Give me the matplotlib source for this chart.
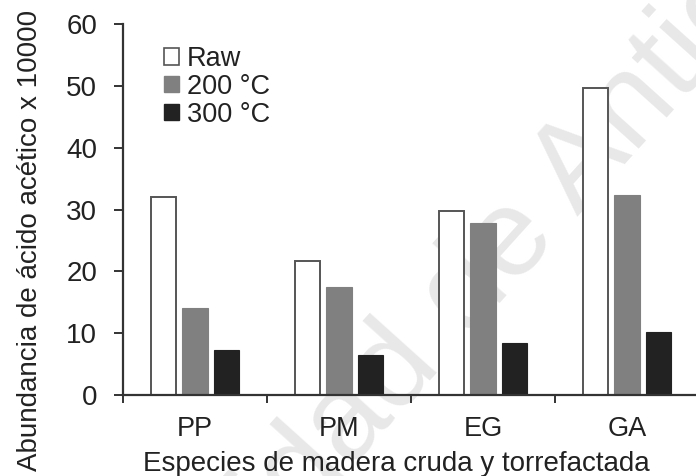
import matplotlib
matplotlib.use("Agg")
import matplotlib.pyplot as plt
from matplotlib.patches import Patch
import numpy as np

# Acetic acid abundance (x 10000) per wood species and treatment
species = ["PP", "PM", "EG", "GA"]
series_labels = ["Raw", "200 °C", "300 °C"]
raw_vals = [32.0, 21.6, 29.7, 49.6]
t200_vals = [14.0, 17.5, 27.8, 32.4]
t300_vals = [7.3, 6.5, 8.4, 10.2]
y_ticks = [0, 10, 20, 30, 40, 50, 60]

plt.rcParams["font.family"] = ["Liberation Sans", "DejaVu Sans"]

W, H = 696, 476
fig = plt.figure(figsize=(W / 100, H / 100), dpi=100)
fig.patch.set_facecolor("white")

left_px, right_px, top_px, bottom_px = 123, 699, 24, 395
ax = fig.add_axes([left_px / W, 1 - bottom_px / H,
                   (right_px - left_px) / W, (bottom_px - top_px) / H])
ax.set_facecolor("none")

# faint diagonal watermark, kept underneath the bars
ax.text(464 / W, 1 - 343 / H, "Universidad de Antioquia", fontsize=90,
        color="#e8e8e8", rotation=48, rotation_mode="anchor",
        ha="center", va="baseline", transform=fig.transFigure, zorder=0.5)

x = np.arange(len(species))
w = 0.174
off = 0.222
edge = "#555555"
ax.bar(x - off, raw_vals, w, color="white", edgecolor=edge, linewidth=1.4, zorder=3)
ax.bar(x, t200_vals, w, color="#808080", edgecolor="#808080", linewidth=0.8, zorder=3)
ax.bar(x + off, t300_vals, w, color="#222222", edgecolor="#222222", linewidth=0.8, zorder=3)

ax.set_xlim(-0.5, len(species) - 0.5)
ax.set_ylim(0, 60)

for s in ["top", "right"]:
    ax.spines[s].set_visible(False)
for s in ["left", "bottom"]:
    ax.spines[s].set_linewidth(1.6)
    ax.spines[s].set_color("#333333")
    ax.spines[s].set_zorder(4)

ax.set_yticks(y_ticks)
ax.tick_params(axis="y", direction="out", length=6.5, width=1.4, color="#333333",
               labelsize=20, pad=12, labelcolor="#222222")

ax.set_xticks(x)
ax.set_xticklabels(species)
ax.set_xticks(np.arange(-0.5, len(species) - 0.5, 1.0), minor=True)
ax.tick_params(axis="x", which="major", length=0, labelsize=19.5, pad=15,
               labelcolor="#222222")
ax.tick_params(axis="x", which="minor", direction="out", length=6, width=1.4,
               color="#333333")

fig.text(37 / W, 1 - 240 / H, "Abundancia de ácido acético x 10000", rotation=90,
         rotation_mode="anchor", ha="center", va="baseline", fontsize=20,
         color="#222222")
fig.text(396 / W, 1 - 471 / H, "Especies de madera cruda y torrefactada",
         ha="center", va="baseline", fontsize=20, color="#222222")

handles = [
    Patch(facecolor="white", edgecolor=edge, linewidth=1.2),
    Patch(facecolor="#808080", edgecolor="#808080"),
    Patch(facecolor="#222222", edgecolor="#222222"),
]
leg = ax.legend(handles, series_labels, loc="upper left",
                bbox_to_anchor=(164 / W, 1 - 46 / H), bbox_transform=fig.transFigure,
                frameon=False, fontsize=19.5, handlelength=0.55, handleheight=0.55,
                handletextpad=0.3, labelspacing=0.07, borderpad=0, borderaxespad=0)
for t in leg.get_texts():
    t.set_color("#222222")

fig.savefig("out.png", dpi=100, facecolor="white")
